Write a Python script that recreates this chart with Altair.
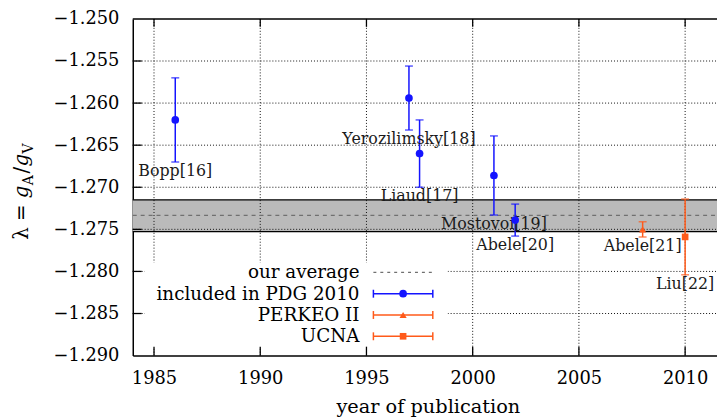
import altair as alt
import pandas as pd

# ---- data ----
years = [1986, 1997, 1997.5, 2001, 2002, 2008, 2010]
lam = [-1.2620, -1.2594, -1.2660, -1.2686, -1.2739, -1.2750, -1.2759]
err = [0.0050, 0.0038, 0.0040, 0.0047, 0.0019, 0.0009, 0.0045]
refs = ["Bopp[16]", "Yerozilimsky[18]", "Liaud[17]", "Mostovoi[19]",
        "Abele[20]", "Abele[21]", "Liu[22]"]
groups = ["included in PDG 2010"] * 5 + ["PERKEO II", "UCNA"]

avg_value = -1.27334
avg_lo = -1.27528
avg_hi = -1.27149

x_ticks = [1985, 1990, 1995, 2000, 2005, 2010]
y_ticks = [-1.250, -1.255, -1.260, -1.265, -1.270, -1.275, -1.280, -1.285, -1.290]
y_grid = y_ticks[1:-1]

legend_labels = ["our average", "included in PDG 2010", "PERKEO II", "UCNA"]
series_names = ["included in PDG 2010", "PERKEO II", "UCNA"]
series_colors = ["#1414ff", "#ff5a1a", "#ff5a1a"]
series_shapes = ["circle", "triangle-up", "square"]
series_sizes = [60, 45, 80]

# ---- layout ----
W, H = 590, 340
SERIF = "DejaVu Serif"
xscale = alt.Scale(domain=[1984, 2011.5], nice=False, zero=False)
yscale = alt.Scale(domain=[-1.290, -1.250], nice=False, zero=False)

pts = pd.DataFrame({"year": years, "lam": lam, "err": err, "ref": refs, "group": groups})
pts["lo"] = pts["lam"] - pts["err"]
pts["hi"] = pts["lam"] + pts["err"]

color_enc = alt.Color("group:N", scale=alt.Scale(domain=series_names, range=series_colors), legend=None)
shape_enc = alt.Shape("group:N", scale=alt.Scale(domain=series_names, range=series_shapes), legend=None)
size_enc = alt.Size("group:N", scale=alt.Scale(domain=series_names, range=series_sizes), legend=None)

band_df = pd.DataFrame({"lo": [avg_lo], "hi": [avg_hi], "avg": [avg_value]})
xt_df = pd.DataFrame({"gx": x_ticks})
yt_df = pd.DataFrame({"gy": y_grid})

# other layers leave the axis undefined so the explicit axis below wins the merge
XS = lambda f: alt.X(f, scale=xscale)
YS = lambda f: alt.Y(f, scale=yscale)

axes_df = pd.DataFrame({"year": years, "lam": lam})
axes_layer = alt.Chart(axes_df).mark_point(opacity=0).encode(
    x=alt.X("year:Q", scale=xscale,
            axis=alt.Axis(values=x_ticks, format="d", title="year of publication",
                          grid=False, ticks=False, labelPadding=14,
                          labelFont=SERIF, labelFontSize=18, labelColor="black",
                          titleFont=SERIF, titleFontSize=19.5, titleFontWeight="normal",
                          titleColor="black", titlePadding=10, titleX=298,
                          domainColor="black", domainWidth=1.5)),
    y=alt.Y("lam:Q", scale=yscale,
            axis=alt.Axis(values=y_ticks, format=".3f", title="",
                          grid=False, ticks=False, labelPadding=14,
                          labelFont=SERIF, labelFontSize=18, labelColor="black",
                          domainColor="black", domainWidth=1.5)),
)

band = alt.Chart(band_df).mark_rect(color="#bababa").encode(
    x=alt.value(0), x2=alt.value(W), y=YS("lo:Q"), y2="hi:Q")

grid_v = alt.Chart(xt_df).mark_rule(color="#111111", strokeWidth=1, strokeDash=[1, 2]).encode(
    x=XS("gx:Q"), y=alt.value(0), y2=alt.value(H))
grid_h = alt.Chart(yt_df).mark_rule(color="#111111", strokeWidth=1, strokeDash=[1, 2]).encode(
    y=YS("gy:Q"), x=alt.value(0), x2=alt.value(W))

avg_line = alt.Chart(band_df).mark_rule(color="#707070", strokeWidth=1.2, strokeDash=[4, 4]).encode(
    y=YS("avg:Q"), x=alt.value(0), x2=alt.value(W))
band_top = alt.Chart(band_df).mark_rule(color="black", strokeWidth=1.2).encode(
    y=YS("hi:Q"), x=alt.value(0), x2=alt.value(W))
band_bot = alt.Chart(band_df).mark_rule(color="black", strokeWidth=1.2).encode(
    y=YS("lo:Q"), x=alt.value(0), x2=alt.value(W))

legend_box = alt.Chart(band_df).mark_rect(color="white").encode(
    x=alt.value(12), x2=alt.value(318), y=alt.value(246), y2=alt.value(333))

tick_bottom = alt.Chart(xt_df).mark_rule(color="black", strokeWidth=1.3).encode(
    x=XS("gx:Q"), y=alt.value(H - 9), y2=alt.value(H))
tick_top = alt.Chart(xt_df).mark_rule(color="black", strokeWidth=1.3).encode(
    x=XS("gx:Q"), y=alt.value(0), y2=alt.value(8))
tick_left = alt.Chart(yt_df).mark_rule(color="black", strokeWidth=1.3).encode(
    y=YS("gy:Q"), x=alt.value(0), x2=alt.value(9))
top_border = alt.Chart(band_df).mark_rule(color="black", strokeWidth=1.5).encode(
    x=alt.value(0), x2=alt.value(W), y=alt.value(0))

bars = alt.Chart(pts).mark_rule(strokeWidth=1.5).encode(
    x=XS("year:Q"), y=YS("lo:Q"), y2="hi:Q", color=color_enc)
cap_lo = alt.Chart(pts).mark_tick(orient="horizontal", size=8, thickness=1.5).encode(
    x=XS("year:Q"), y=YS("lo:Q"), color=color_enc)
cap_hi = alt.Chart(pts).mark_tick(orient="horizontal", size=8, thickness=1.5).encode(
    x=XS("year:Q"), y=YS("hi:Q"), color=color_enc)
points = alt.Chart(pts).mark_point(filled=True, opacity=1).encode(
    x=XS("year:Q"), y=YS("lam:Q"), color=color_enc, shape=shape_enc, size=size_enc)
labels = alt.Chart(pts).mark_text(baseline="top", dy=1, font=SERIF, fontSize=16, color="#1a1a1a").encode(
    x=XS("year:Q"), y=YS("lo:Q"), text="ref:N")

# y-axis title  λ = g_A / g_V  built from pieces (rotated)
title_parts = []
for txt, ypos, xpos, size, style in [
    ("λ =", 223, -106, 20, "normal"),
    ("g", 181, -106, 20, "italic"),
    ("A", 168, -101, 14, "normal"),
    ("/", 156, -106, 20, "normal"),
    ("g", 149, -106, 20, "italic"),
    ("V", 136, -101, 14, "normal"),
]:
    title_parts.append(
        alt.Chart(pd.DataFrame({"t": [txt]})).mark_text(
            angle=270, align="left", baseline="alphabetic", font=SERIF,
            fontSize=size, fontStyle=style, color="black").encode(
            text="t:N", x=alt.value(xpos), y=alt.value(ypos)))

# ---- manual legend rows ----
ROW0, ROWSTEP = 256, 21.5
legend_layers = []
for i, lab in enumerate(legend_labels):
    ry = ROW0 + ROWSTEP * i
    row_df = pd.DataFrame({"label": [lab], "group": [lab]})
    legend_layers.append(
        alt.Chart(row_df).mark_text(align="right", baseline="middle", font=SERIF,
                                    fontSize=18.5, color="black").encode(
            x=alt.value(229), y=alt.value(ry), text="label:N"))
    if lab == "our average":
        legend_layers.append(
            alt.Chart(row_df).mark_rule(color="#707070", strokeWidth=1.2, strokeDash=[3, 4]).encode(
                x=alt.value(243), x2=alt.value(303), y=alt.value(ry)))
    else:
        legend_layers += [
            alt.Chart(row_df).mark_rule(strokeWidth=1.5).encode(
                x=alt.value(243), x2=alt.value(303), y=alt.value(ry), color=color_enc),
            alt.Chart(row_df).mark_rule(strokeWidth=1.5).encode(
                x=alt.value(243), y=alt.value(ry - 4), y2=alt.value(ry + 4), color=color_enc),
            alt.Chart(row_df).mark_rule(strokeWidth=1.5).encode(
                x=alt.value(303), y=alt.value(ry - 4), y2=alt.value(ry + 4), color=color_enc),
            alt.Chart(row_df).mark_point(filled=True, opacity=1).encode(
                x=alt.value(273), y=alt.value(ry), color=color_enc, shape=shape_enc, size=size_enc),
        ]

chart = alt.layer(axes_layer, band, grid_v, grid_h, avg_line, band_top, band_bot, legend_box,
                  tick_bottom, tick_top, tick_left, top_border,
                  bars, cap_lo, cap_hi, labels, points, *title_parts, *legend_layers).properties(
    width=W, height=H, autosize="none",
    padding={"left": 126, "top": 9, "right": 0, "bottom": 62},
    background="white",
).configure_view(stroke=None)

chart.save("out.html", embed_options={"renderer": "svg", "actions": False})
